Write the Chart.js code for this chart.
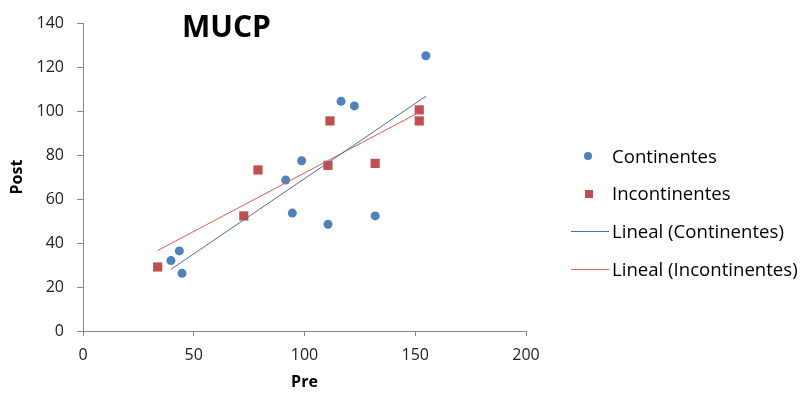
<!DOCTYPE html>
<html>
<head>
<meta charset="utf-8">
<script src="https://cdn.jsdelivr.net/npm/chart.js@4/dist/chart.umd.min.js"></script>
<style>
  html, body { margin: 0; padding: 0; background: #fff; }
  #wrap { position: relative; width: 803px; height: 396px; font-family: "Open Sans", sans-serif; }
  canvas { position: absolute; left: 0; top: 0; }
  #title { position: absolute; left: 182px; top: 11px; font-size: 30px; line-height: 30px; font-weight: bold; color: #000; }
  .leg { position: absolute; font-size: 18.6px; line-height: 18.6px; color: #000; white-space: nowrap; }
  .mk { position: absolute; }
</style>
</head>
<body>
<div id="wrap">
  <canvas id="c" width="803" height="396"></canvas>
  <div id="title">MUCP</div>
  <div class="mk" style="left:584px;top:152px;width:8px;height:8px;border-radius:50%;background:#4F81BD;"></div>
  <div class="leg" style="left:612px;top:147px;">Continentes</div>
  <div class="mk" style="left:585px;top:190px;width:8px;height:8px;background:#C0504D;"></div>
  <div class="leg" style="left:612px;top:184px;">Incontinentes</div>
  <div class="mk" style="left:571px;top:231px;width:38px;height:1px;background:#4A6FA8;"></div>
  <div class="leg" style="left:612px;top:222px;">Lineal (Continentes)</div>
  <div class="mk" style="left:571px;top:269px;width:38px;height:1px;background:#D9605C;"></div>
  <div class="leg" style="left:612px;top:260px;">Lineal (Incontinentes)</div>
</div>
<script>
const preContinentes   = [154.8, 116.5, 122.5, 98.7, 91.5, 94.5, 110.6, 131.9, 43.5, 39.7, 44.7];
const postContinentes  = [125.1, 104.4, 102.3, 77.4, 68.6, 53.6, 48.5, 52.3, 36.4, 32.0, 26.2];
const preIncontinentes  = [33.7, 72.6, 79.0, 111.5, 110.6, 131.9, 151.8, 151.8];
const postIncontinentes = [29.1, 52.3, 73.2, 95.5, 75.3, 76.2, 100.5, 95.5];
const xTicks = [0, 50, 100, 150, 200];
const yTicks = [0, 20, 40, 60, 80, 100, 120, 140];

function pts(xs, ys) { return xs.map((x, i) => ({ x: x, y: ys[i] })); }
function trend(xs, ys) {
  const n = xs.length;
  const mx = xs.reduce((a, b) => a + b, 0) / n;
  const my = ys.reduce((a, b) => a + b, 0) / n;
  let sxy = 0, sxx = 0;
  for (let i = 0; i < n; i++) { sxy += (xs[i] - mx) * (ys[i] - my); sxx += (xs[i] - mx) * (xs[i] - mx); }
  const b = sxy / sxx, a = my - b * mx;
  const x0 = Math.min(...xs), x1 = Math.max(...xs);
  return [{ x: x0, y: a + b * x0 }, { x: x1, y: a + b * x1 }];
}

const grey = '#868686';
const tickFont = { family: 'Open Sans', size: 16 };
const titleFont = { family: 'Open Sans', size: 16, weight: 'bold' };

new Chart(document.getElementById('c'), {
  type: 'scatter',
  data: {
    datasets: [
      { label: 'Lineal (Continentes)', type: 'line', data: trend(preContinentes, postContinentes),
        borderColor: '#4A6FA8', borderWidth: 1, pointRadius: 0, fill: false, order: 1 },
      { label: 'Lineal (Incontinentes)', type: 'line', data: trend(preIncontinentes, postIncontinentes),
        borderColor: '#D9605C', borderWidth: 1, pointRadius: 0, fill: false, order: 2 },
      { label: 'Continentes', data: pts(preContinentes, postContinentes), pointStyle: 'circle',
        pointRadius: 4.5, backgroundColor: '#4F81BD', borderColor: '#4F81BD', borderWidth: 0, order: 3 },
      { label: 'Incontinentes', data: pts(preIncontinentes, postIncontinentes), pointStyle: 'rect',
        pointRadius: 6.5, backgroundColor: '#C0504D', borderColor: '#C0504D', borderWidth: 0, order: 4 }
    ]
  },
  options: {
    responsive: false,
    animation: false,
    layout: { padding: { left: 0, right: 277, top: 23, bottom: 0 } },
    plugins: { legend: { display: false }, tooltip: { enabled: false } },
    scales: {
      x: {
        type: 'linear', min: 0, max: 200,
        afterBuildTicks: (s) => { s.ticks = xTicks.map(v => ({ value: v })); },
        afterFit: (s) => { s.height = 65; },
        grid: { drawOnChartArea: false, drawTicks: true, tickLength: 5, color: grey },
        border: { color: grey, width: 1 },
        ticks: { font: tickFont, color: '#222', padding: 10, maxRotation: 0 },
        title: { display: true, text: 'Pre', font: titleFont, color: '#000', padding: { top: 0, bottom: 4 } }
      },
      y: {
        type: 'linear', min: 0, max: 140,
        afterBuildTicks: (s) => { s.ticks = yTicks.map(v => ({ value: v })); },
        afterFit: (s) => { s.width = 83; },
        grid: { drawOnChartArea: false, drawTicks: true, tickLength: 6, color: grey },
        border: { color: grey, width: 1 },
        ticks: { font: tickFont, color: '#222', padding: 13 },
        title: { display: true, text: 'Post', font: titleFont, color: '#000', padding: { top: 8, bottom: 0 } }
      }
    }
  }
});
</script>
</body>
</html>
